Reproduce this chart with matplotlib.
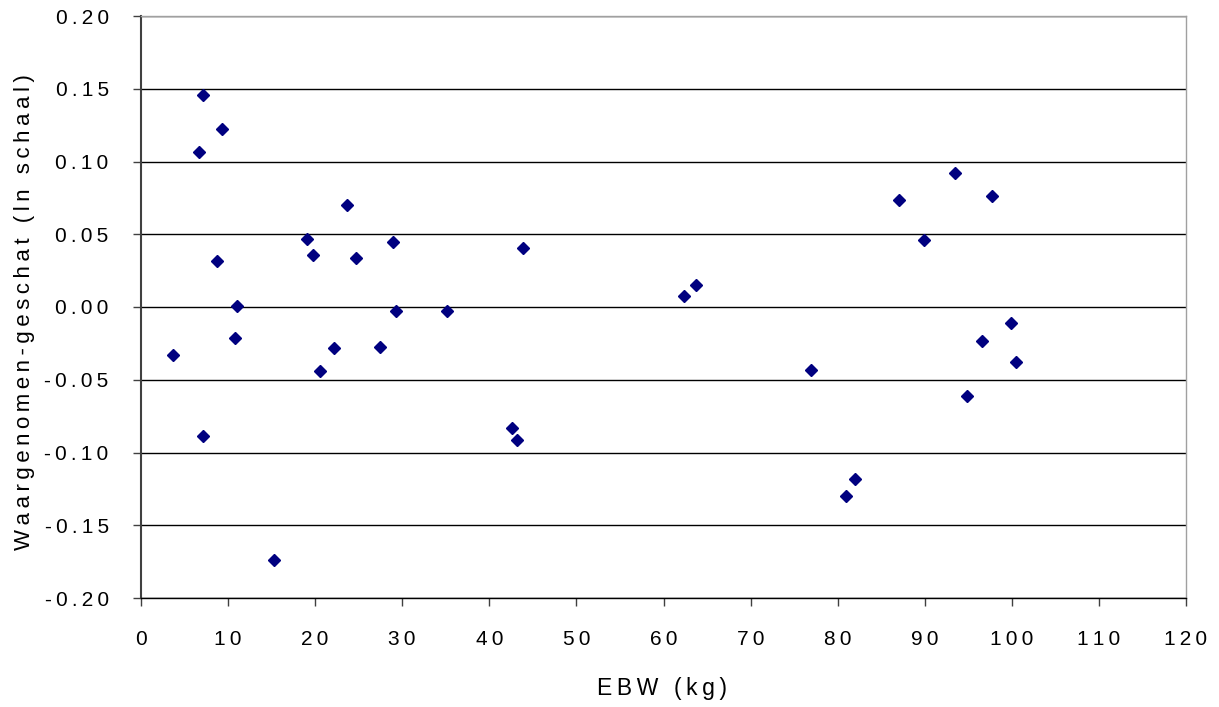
import matplotlib
matplotlib.use("Agg")
import matplotlib.pyplot as plt
from matplotlib.ticker import FixedLocator, FuncFormatter

plt.rcParams['font.family'] = ['Liberation Sans', 'DejaVu Sans']

# EBW (kg) and observed-minus-predicted residuals (ln scale)
ebw = [3.63, 6.69, 7.15, 7.15, 8.68, 9.29, 10.97, 10.8, 15.25, 19.1,
       19.7, 20.5, 22.2, 23.62, 24.7, 27.4, 28.94, 29.24, 35.17, 42.6,
       43.2, 43.9, 62.35, 63.76, 76.9, 80.9, 82.0, 87.0, 89.9, 93.5,
       94.9, 96.6, 97.74, 99.85, 100.5]
residual = [-0.0329, 0.1067, 0.1457, -0.0886, 0.0314, 0.1226, 0.0007, -0.0211, -0.174, 0.0468,
            0.0355, -0.0439, -0.0285, 0.0702, 0.034, -0.0278, 0.045, -0.0025, -0.0025, -0.0829,
            -0.0912, 0.0406, 0.0078, 0.0154, -0.043, -0.1297, -0.1185, 0.0737, 0.0459, 0.0923,
            -0.0611, -0.0237, 0.0762, -0.0108, -0.0379]

x_ticks = list(range(0, 121, 10))
y_ticks = [-0.20, -0.15, -0.10, -0.05, 0.00, 0.05, 0.10, 0.15, 0.20]
x_title = "EBW (kg)"
y_title = "Waargenomen-geschat (ln schaal)"


def spaced(s):
    """Widen letter spacing with thin spaces between characters."""
    return "\u2009".join(s)


W, H = 1219, 707
fig = plt.figure(figsize=(W / 100, H / 100), dpi=100)
ax = fig.add_axes([141 / W, 1 - 598 / H, (1186 - 141) / W, (598 - 16) / H])

ax.set_xlim(0, 120)
ax.set_ylim(-0.20, 0.20)

# horizontal gridlines
for yv in y_ticks:
    ax.axhline(yv, color='black', lw=1.0, zorder=1)

ax.plot(ebw, residual, linestyle='none', marker='D', markersize=6.6,
        color='#000080', markeredgecolor='#000080', zorder=3, clip_on=False)

ax.xaxis.set_major_locator(FixedLocator(x_ticks))
ax.yaxis.set_major_locator(FixedLocator(y_ticks))
ax.xaxis.set_major_formatter(FuncFormatter(lambda v, p: spaced(f"{v:.0f}")))
ax.yaxis.set_major_formatter(FuncFormatter(
    lambda v, p: spaced(f"{v:.2f}" if abs(v) > 1e-9 else "0.00")))

ax.tick_params(axis='both', direction='out', length=5.8, width=1.0, color='#404040',
               labelsize=15, labelcolor='black')
ax.tick_params(axis='x', pad=17.5)
ax.tick_params(axis='y', pad=17.5)

for side in ('top', 'right'):
    ax.spines[side].set_color('#a0a0a0')
    ax.spines[side].set_linewidth(1.0)
ax.spines['left'].set_color('#404040')
ax.spines['left'].set_linewidth(1.5)
ax.spines['bottom'].set_color('black')
ax.spines['bottom'].set_linewidth(1.0)

ax.set_xlabel(spaced(x_title), fontsize=16.5, va='center', ha='center')
ax.xaxis.set_label_coords((662 - 141) / 1045, (598 - 688) / 582)
ax.set_ylabel(spaced(y_title), fontsize=16, va='center', ha='center')
ax.yaxis.set_label_coords((25 - 141) / 1045, (598 - 312) / 582)

fig.savefig("out.png", dpi=100, facecolor='white')
